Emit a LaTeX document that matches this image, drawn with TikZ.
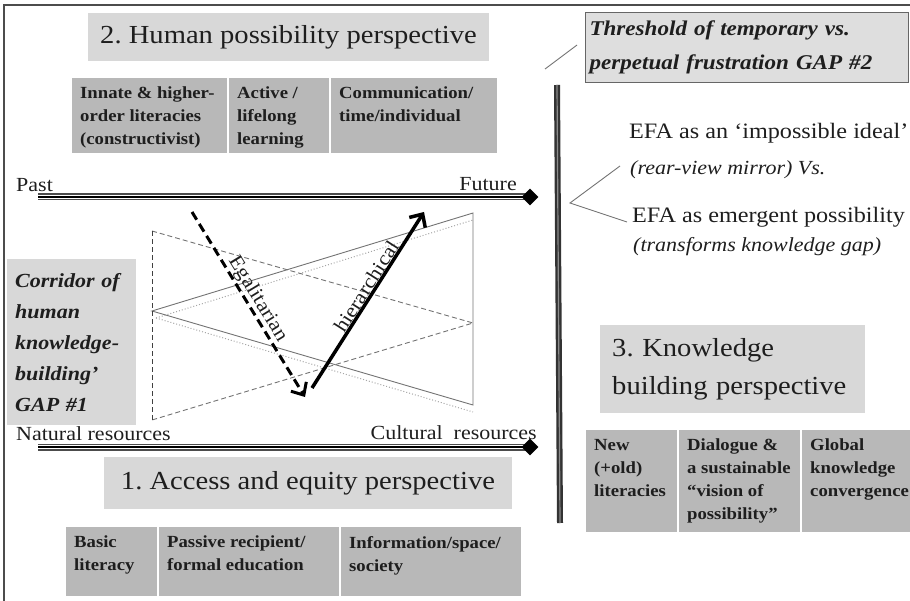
\documentclass[tikz,border=0pt]{standalone}
\usepackage{fontspec}
\setmainfont{Liberation Serif}[FakeStretch=1.1]
\usetikzlibrary{arrows.meta,shapes.geometric}
\definecolor{titlegray}{RGB}{216,216,216}
\definecolor{cellgray}{RGB}{184,184,184}
\definecolor{thgray}{RGB}{222,222,222}
\definecolor{ink}{RGB}{30,30,30}
\frenchspacing

\begin{document}
\begin{tikzpicture}[x=1pt, y=-1pt,
  titlebox/.style={fill=titlegray, inner sep=0pt, text=ink, font=\fontsize{26}{38}\selectfont},
  cellbox/.style={fill=cellgray, anchor=north west, inner xsep=8pt, inner ysep=9pt, text=ink, font=\bfseries\fontsize{17}{23}\selectfont},
  axislabel/.style={inner sep=0pt, text=ink, font=\fontsize{20}{24}\selectfont},
  efatext/.style={anchor=west, inner sep=0pt, text=ink, font=\fontsize{22}{26}\selectfont},
  efanote/.style={anchor=west, inner sep=0pt, text=ink, font=\itshape\fontsize{20}{24}\selectfont},
  timeline/.style={line width=7pt, draw=black!70, postaction={draw=white, line width=4.4pt}, postaction={draw=black, line width=2.2pt}},
  endmark/.style={diamond, fill=black, inner sep=0pt, minimum width=17pt, minimum height=17pt},
  thinlink/.style={draw=black!55, line width=0.9pt},
]
  \useasboundingbox (0,0) rectangle (910,601);

  % Frame
  \draw[black!70, line width=1.2pt] (4,601) -- (4,5) -- (910,5);

  % 2. Human possibility perspective
  \node[titlebox, minimum width=401pt, minimum height=48pt] (hpp) at (288.5,37) {2. Human possibility perspective};
  \node[cellbox] (hp1) at (72,78) {\parbox[t][57pt][t]{139pt}{\raggedright Innate \& higher-\\order literacies\\(constructivist)}};
  \node[cellbox] (hp2) at (229,78) {\parbox[t][57pt][t]{84pt}{\raggedright Active /\\lifelong\\learning}};
  \node[cellbox] (hp3) at (331,78) {\parbox[t][57pt][t]{150pt}{\raggedright Communication/\\time/individual}};

  % Past -- Future line
  \node[axislabel, anchor=west] (past) at (16,185) {Past};
  \node[axislabel, anchor=east] (future) at (517,184) {Future};
  \coordinate (pastend) at (38,197);
  \coordinate (futpt) at (530,197);
  \draw[timeline] (pastend) -- (futpt);
  \node[endmark] (fut) at (futpt) {};

  % Solid triangle, with its dotted shadow
  \coordinate (sl) at (152,311);
  \coordinate (str) at (473,213);
  \coordinate (sbr) at (473,405);
  \draw[dotted, black!35, line width=1pt] ([shift={(4,7)}]sl) -- ([shift={(0,7)}]str);
  \draw[dotted, black!35, line width=1pt] ([shift={(4,7)}]sl) -- ([shift={(0,7)}]sbr);
  \draw[black!55, line width=0.9pt] (sl) -- (str) -- (sbr) -- cycle;

  % Dashed triangle
  \coordinate (dtl) at (152,231);
  \coordinate (dbl) at (152,420);
  \coordinate (dr) at (473,323);
  \draw[black!55, line width=0.9pt, dash pattern=on 5pt off 3pt] (dtl) -- (dr) -- (dbl);
  \draw[black!75, line width=0.9pt, dash pattern=on 5pt off 3pt] (dbl) -- (dtl);

  % Egalitarian arrow
  \coordinate (egs) at (192,212);
  \coordinate (ege) at (305,397);
  \draw[line width=3pt, dash pattern=on 9pt off 5pt, -{Straight Barb[length=10pt, width=18pt]}] (egs) -- node[sloped, above, inner sep=1pt, axislabel] (egal) {Egalitarian} (ege);

  % Hierarchical arrow
  \coordinate (his) at (312,388);
  \coordinate (hie) at (424,212);
  \draw[line width=3.5pt, -{Straight Barb[length=10pt, width=19pt]}] (his) -- node[sloped, above, pos=0.55, inner sep=2pt, axislabel] (hier) {hierarchical} (hie);

  % Corridor GAP #1
  \node[fill=titlegray, anchor=north west, minimum width=129pt, minimum height=166pt, text width=113pt, inner xsep=8pt, align=left, text=ink, font=\bfseries\itshape\fontsize{20}{31}\selectfont] (corridor) at (7,259) {Corridor of\\human\\knowledge-\\building’\\GAP \#1};

  % Natural -- Cultural resources line
  \node[axislabel, anchor=west] (natural) at (16,434) {Natural resources};
  \node[axislabel, anchor=east] (cultural) at (537,433) {Cultural\ \ resources};
  \coordinate (natend) at (38,447);
  \coordinate (cultpt) at (530,447);
  \draw[timeline] (natend) -- (cultpt);
  \node[endmark] (cult) at (cultpt) {};

  % 1. Access and equity perspective
  \node[titlebox, minimum width=408pt, minimum height=52pt] (aep) at (308,483) {1. Access and equity perspective};
  \node[cellbox] (ae1) at (66,527) {\parbox[t][51pt][t]{75pt}{\raggedright Basic\\literacy}};
  \node[cellbox] (ae2) at (159,527) {\parbox[t][51pt][t]{164pt}{\raggedright Passive recipient/\\formal education}};
  \node[cellbox] (ae3) at (341,527) {\parbox[t][51pt][t]{164pt}{\raggedright Information/space/\\society}};

  % Threshold bar
  \coordinate (bartop) at (557,85);
  \coordinate (barbot) at (560,523);
  \draw[line width=6pt, black!80] (bartop) -- (barbot);
  \draw[line width=1.2pt, black!45] (bartop) -- (barbot);

  % Threshold GAP #2
  \node[draw=black!60, line width=1pt, fill=thgray, anchor=north west, minimum height=70pt, text width=315pt, inner xsep=4pt, align=left, text=ink, font=\bfseries\itshape\fontsize{21}{34}\selectfont] (threshold) at (585,12) {Threshold of temporary vs.\\perpetual frustration GAP \#2};
  \coordinate (thlow) at (545,69);
  \coordinate (thhigh) at (577,45);
  \draw[thinlink] (thlow) -- (thhigh);

  % EFA views
  \node[efatext] (efa1) at (629,133) {EFA as an ‘impossible ideal’};
  \node[efanote] (rear) at (630,170) {(rear-view mirror) Vs.};
  \node[efatext] (efa2) at (632,217) {EFA as emergent possibility};
  \node[efanote] (trans) at (633,247) {(transforms knowledge gap)};
  \coordinate (vtip) at (570,203);
  \coordinate (vup) at (620,166);
  \coordinate (vdown) at (627,222);
  \draw[thinlink] (vup) -- (vtip) -- (vdown);

  % 3. Knowledge building perspective
  \node[titlebox, anchor=north west, minimum width=265pt, minimum height=88pt, text width=241pt, inner xsep=12pt, align=left] (kbp) at (600,325) {3. Knowledge\\building perspective};
  \node[cellbox] (kb1) at (586,430) {\parbox[t][84pt][t]{75pt}{\raggedright New\\(+old)\\literacies}};
  \node[cellbox] (kb2) at (679,430) {\parbox[t][84pt][t]{105pt}{\raggedright Dialogue \&\\a sustainable\\“vision of\\possibility”}};
  \node[cellbox] (kb3) at (802,430) {\parbox[t][84pt][t]{92pt}{\raggedright Global\\knowledge\\convergence}};

\end{tikzpicture}
\end{document}
